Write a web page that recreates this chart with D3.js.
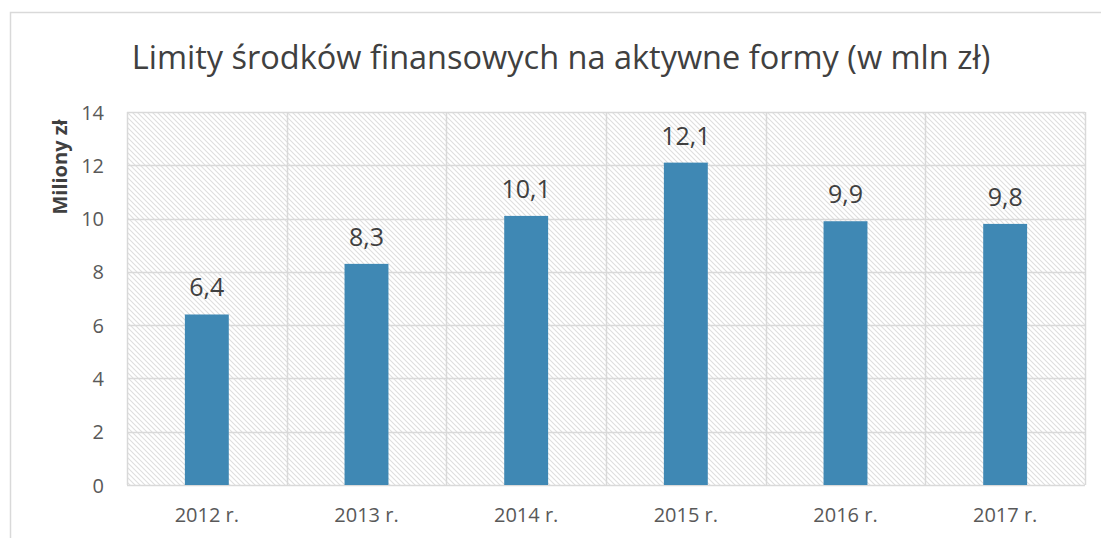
<!DOCTYPE html>
<html><head><meta charset="utf-8">
<script src="https://cdn.jsdelivr.net/npm/d3@7"></script>
<style>body{margin:0;background:#fff;} svg{display:block;}</style>
</head><body>
<script>
const categories = ["2012 r.","2013 r.","2014 r.","2015 r.","2016 r.","2017 r."];
const values = [6.4, 8.3, 10.1, 12.1, 9.9, 9.8];
const valueLabels = ["6,4","8,3","10,1","12,1","9,9","9,8"];
const yTicks = [0,2,4,6,8,10,12,14];
const title = "Limity środków finansowych na aktywne formy (w mln zł)";
const yTitle = "Miliony zł";

const W = 1101, H = 538;
const m = {left:127, top:112, right:1085, bottom:485};
const font = "'Open Sans', sans-serif";

const svg = d3.select("body").append("svg").attr("width", W).attr("height", H);
const defs = svg.append("defs");
const pat = defs.append("pattern").attr("id","hatch").attr("patternUnits","userSpaceOnUse")
  .attr("width",5).attr("height",5);
pat.append("rect").attr("width",5).attr("height",5).attr("fill","#fff");
pat.append("path").attr("d","M-1,-1 L6,6 M-1,4 L1,6 M4,-1 L6,1")
  .attr("stroke","#dedede").attr("stroke-width",1.05);

// outer frame
svg.append("path").attr("d",`M10.5,${H} L10.5,12.5 L${W},12.5`).attr("fill","none")
  .attr("stroke","#d9d9d9").attr("stroke-width",1.5);

const x = d3.scaleBand().domain(categories).range([m.left, m.right]).paddingInner(0).paddingOuter(0);
const y = d3.scaleLinear().domain([0,14]).range([m.bottom, m.top]);

svg.append("rect").attr("x",m.left).attr("y",m.top).attr("width",m.right-m.left)
  .attr("height",m.bottom-m.top).attr("fill","url(#hatch)");

// horizontal grid
svg.append("g").selectAll("line").data(yTicks).join("line")
  .attr("x1",m.left).attr("x2",m.right)
  .attr("y1",d=>Math.round(y(d))+0.5).attr("y2",d=>Math.round(y(d))+0.5)
  .attr("stroke","#d9d9d9").attr("stroke-width",1.5);
// vertical grid
const vb = categories.map(c=>x(c)).concat([m.right]);
svg.append("g").selectAll("line").data(vb).join("line")
  .attr("x1",d=>Math.round(d)+0.5).attr("x2",d=>Math.round(d)+0.5)
  .attr("y1",m.top).attr("y2",m.bottom)
  .attr("stroke","#d9d9d9").attr("stroke-width",1.5);

// bars
const bw = x.bandwidth()*0.275;
svg.append("g").selectAll("rect").data(values).join("rect")
  .attr("x",(d,i)=>x(categories[i])+x.bandwidth()/2-bw/2)
  .attr("y",d=>y(d)).attr("width",bw).attr("height",d=>y(0)-y(d))
  .attr("fill","#3f88b4");

// value labels
svg.append("g").selectAll("text").data(values).join("text")
  .attr("x",(d,i)=>x(categories[i])+x.bandwidth()/2)
  .attr("y",d=>y(d)-18)
  .attr("text-anchor","middle").attr("font-family",font).attr("font-size",25)
  .attr("fill","#404040").text((d,i)=>valueLabels[i]);

// y axis labels
const yAxis = d3.axisLeft(y).tickValues(yTicks).tickSize(0).tickPadding(0);
const gy = svg.append("g").attr("transform",`translate(${m.left-23},0)`).call(yAxis);
gy.select(".domain").remove();
gy.selectAll("text").attr("font-family",font).attr("font-size",20).attr("fill","#595959")
  .attr("text-anchor","end").attr("dy","0.35em");

// x axis labels
const xAxis = d3.axisBottom(x).tickSize(0).tickPadding(0);
const gx = svg.append("g").attr("transform",`translate(0,${m.bottom+23})`).call(xAxis);
gx.select(".domain").remove();
gx.selectAll("text").attr("font-family",font).attr("font-size",20).attr("fill","#595959")
  .attr("dy","0.71em");

// titles
svg.append("text").attr("x",561).attr("y",69).attr("text-anchor","middle")
  .attr("font-family",font).attr("font-size",32.5).attr("fill","#404040").text(title);
svg.append("text").attr("transform","translate(67,167) rotate(-90)").attr("text-anchor","middle")
  .attr("font-family",font).attr("font-size",20).attr("font-weight","bold")
  .attr("fill","#404040").text(yTitle);
</script>
</body></html>
